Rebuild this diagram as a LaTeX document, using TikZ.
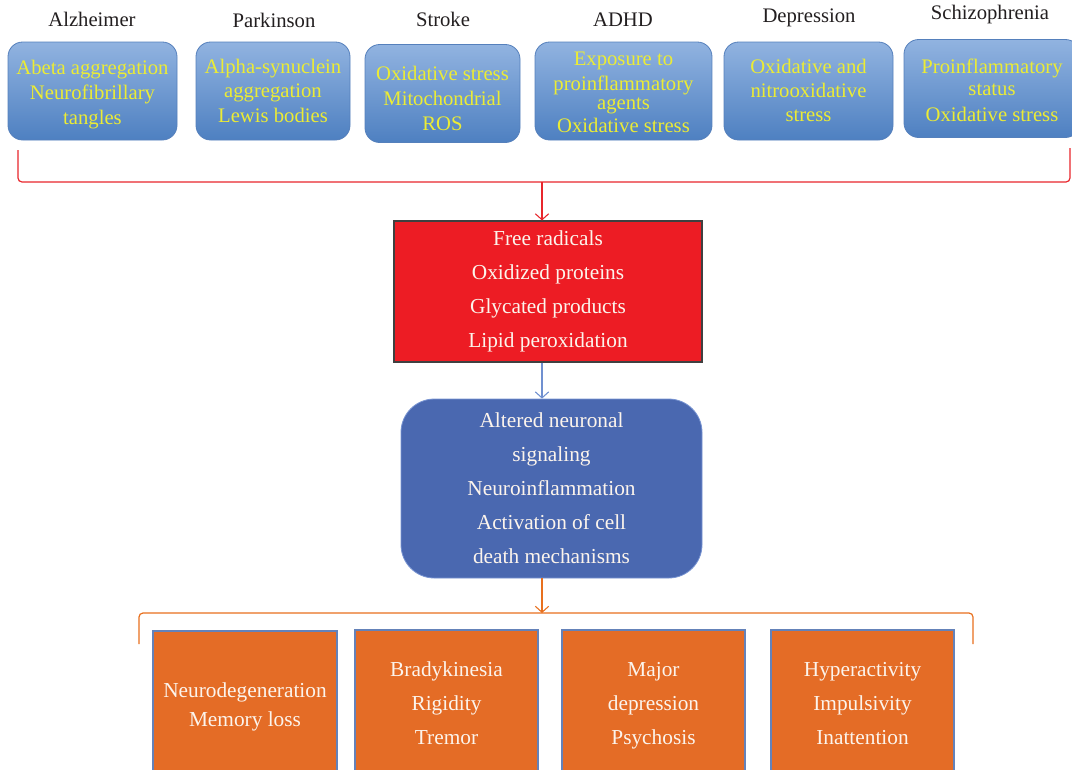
\documentclass[tikz,border=0pt]{standalone}
\usepackage{fontspec}
\setmainfont{Liberation Serif}
\usetikzlibrary{arrows.meta}
\definecolor{topA}{RGB}{145,179,224}
\definecolor{topB}{RGB}{78,128,193}
\definecolor{topLine}{RGB}{85,128,188}
\definecolor{ytext}{RGB}{236,236,52}
\definecolor{redfill}{RGB}{237,28,36}
\definecolor{redborder}{RGB}{64,64,64}
\definecolor{redline}{RGB}{232,38,44}
\definecolor{bluefill}{RGB}{74,104,176}
\definecolor{blueborder}{RGB}{120,148,210}
\definecolor{bluearrow}{RGB}{112,144,208}
\definecolor{orfill}{RGB}{228,108,38}
\definecolor{orline}{RGB}{232,112,30}
\definecolor{orborder}{RGB}{100,130,185}
\definecolor{wtext}{RGB}{252,244,236}
\definecolor{ttext}{RGB}{35,31,32}
\begin{document}
\begin{tikzpicture}[x=0.75pt,y=-0.75pt,
  title/.style={text=ttext, font=\fontsize{15.5}{18}\selectfont, inner sep=0pt},
  topbox/.style={rectangle, rounded corners=11pt, draw=topLine, line width=0.6pt,
    top color=topA, bottom color=topB, inner sep=0pt,
    minimum height=98*0.75pt, minimum width=#1*0.75pt},
  ytxt/.style={text=ytext, font=\fontsize{15.5}{18.75}\selectfont, align=center, inner sep=0pt},
  whitetxt/.style={text=wtext, font=\fontsize{16}{25.5}\selectfont, align=center, inner sep=0pt},
  redbox/.style={whitetxt, rectangle, fill=redfill, draw=redborder, line width=0.8pt,
    minimum width=308*0.75pt, minimum height=141*0.75pt},
  bluebox/.style={whitetxt, rectangle, rounded corners=25pt, fill=bluefill, draw=blueborder, line width=0.6pt,
    minimum width=301*0.75pt, minimum height=179*0.75pt},
  orbox/.style={rectangle, fill=orfill, draw=orborder, line width=0.8pt, inner sep=0pt,
    minimum width=183*0.75pt, minimum height=145*0.75pt},
  arr/.style={-{Straight Barb[length=4.5pt,width=10pt]}, line width=0.8pt},
  bracket/.style={line width=0.9pt, rounded corners=3pt}
]
\fill[white] (0,0) rectangle (1072,769);
\useasboundingbox (0,0) rectangle (1072,769);

% titles
\node[title] (t1) at (92,19) {Alzheimer};
\node[title] (t2) at (274,20) {Parkinson};
\node[title] (t3) at (443,19) {Stroke};
\node[title] (t4) at (623,20) {ADHD};
\node[title] (t5) at (809,18) {Depression};
\node[title] (t6) at (990,15) {Schizophrenia};

% top boxes
\node[topbox=169] (b1) at (92.5,91) {};
\node[topbox=154] (b2) at (273,91) {};
\node[topbox=155] (b3) at (442.5,93.5) {};
\node[topbox=177] (b4) at (623.5,91) {};
\node[topbox=169] (b5) at (808.5,91) {};
\node[topbox=176] (b6) at (992,88.5) {};
\node[ytxt] (b1t) at (92.5,95) {Abeta aggregation\\Neurofibrillary\\tangles};
\node[ytxt] (b2t) at (273,91) {Alpha-synuclein\\[-1pt]aggregation\\Lewis bodies};
\node[ytxt] (b3t) at (442.5,98) {Oxidative stress\\Mitochondrial\\ROS};
\node[ytxt] (b4t) at (623.5,92) {Exposure to\\proinflammatory\\[-4.5pt]agents\\[-1.5pt]Oxidative stress};
\node[ytxt] (b5t) at (808.5,90) {Oxidative and\\[-0.75pt]nitrooxidative\\[-0.75pt]stress};
\node[ytxt] (b6t) at (992,90.5) {Proinflammatory\\[-2.25pt]status\\[0.75pt]Oxidative stress};

% red bracket
\coordinate (rl) at (18,150);
\coordinate (rr) at (1070,148);
\coordinate (rm) at (542,182);
\draw[bracket, redline] (rl) -- (18,182) -- (1070,182) -- (rr);

% red box
\node[redbox] (red) at (548,291.5) {Free radicals\\Oxidized proteins\\Glycated products\\Lipid peroxidation};
\draw[arr, redline] (rm) -- (rm |- red.north);

% blue box
\node[bluebox] (blue) at (551.5,488.5) {Altered neuronal\\signaling\\Neuroinflammation\\Activation of cell\\death mechanisms};
\draw[arr, bluearrow] (rm |- red.south) -- (rm |- blue.north);

% orange bracket
\coordinate (ol) at (139,644);
\coordinate (or) at (973,644);
\coordinate (om) at (542,613);
\draw[bracket, orline] (ol) -- (139,613) -- (973,613) -- (or);
\draw[arr, orline] (rm |- blue.south) -- (om);

% orange boxes
\node[orbox, minimum width=184*0.75pt, minimum height=144*0.75pt] (o1) at (245,703) {};
\node[orbox] (o2) at (446.5,702.5) {};
\node[orbox] (o3) at (653.5,702.5) {};
\node[orbox] (o4) at (862.5,702.5) {};
\node[whitetxt] (o1t) at (245,706.5) {Neurodegeneration\\[-3.75pt]Memory loss};
\node[whitetxt] (o2t) at (446.5,703.5) {Bradykinesia\\Rigidity\\Tremor};
\node[whitetxt] (o3t) at (653.5,705.5) {Major\\depression\\Psychosis};
\node[whitetxt] (o4t) at (862.5,703.5) {Hyperactivity\\Impulsivity\\Inattention};
\end{tikzpicture}
\end{document}
